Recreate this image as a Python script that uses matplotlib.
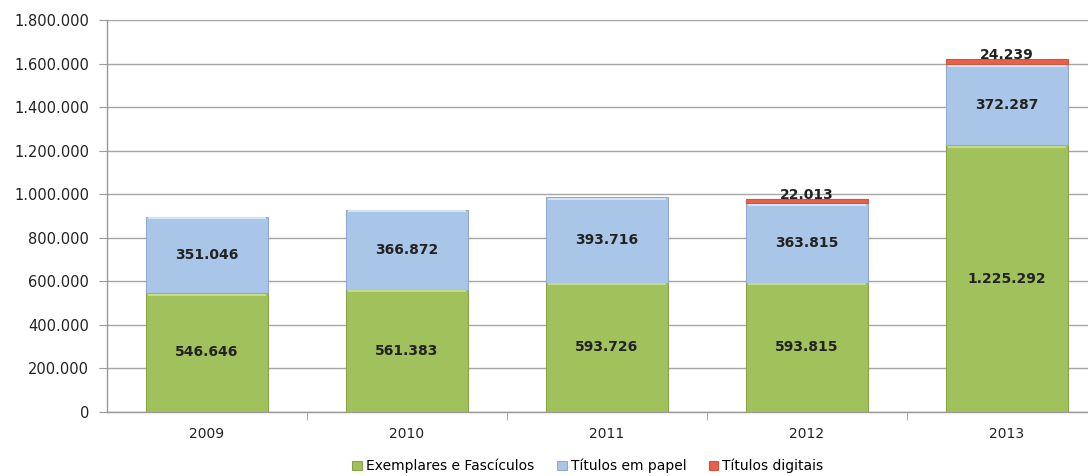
import matplotlib.pyplot as plt
import numpy as np
from matplotlib.ticker import FuncFormatter

anos = ['2009', '2010', '2011', '2012', '2013']
exemplares = [546646, 561383, 593726, 593815, 1225292]
titulos_papel = [351046, 366872, 393716, 363815, 372287]
titulos_digitais = [0, 0, 0, 22013, 24239]

series_nomes = ['Exemplares e Fascículos', 'Títulos em papel', 'Títulos digitais']
cores = ['#a0c15c', '#a9c6e8', '#e8614a']
claros = ['#c4dc8a', '#d2e3f6', None]
escuros = ['#86a548', '#8eabcd', '#d0553f']


def fmt(v):
    return '{:,.0f}'.format(v).replace(',', '.')


fig = plt.figure(figsize=(10.88, 4.76), dpi=100)
# plot area runs past the right edge, as in the original
ax = fig.add_axes([107 / 1088, (476 - 412) / 476, 1000 / 1088, 392 / 476])

x = np.arange(len(anos))
w = 0.61
base = np.zeros(len(anos))
for vals, cor, claro, escuro, nome in zip([exemplares, titulos_papel, titulos_digitais],
                                          cores, claros, escuros, series_nomes):
    vals = np.array(vals, dtype=float)
    mask = vals > 0
    ax.bar(x[mask], vals[mask], w, bottom=base[mask], color=cor, edgecolor=escuro,
           linewidth=0.8, label=nome, zorder=3)
    if claro is not None:
        # light bevel strip at the top of each segment
        faixa = np.full(mask.sum(), 9000.0)
        ax.bar(x[mask], faixa, w * 0.96, bottom=base[mask] + vals[mask] - faixa * 1.3,
               color=claro, linewidth=0, zorder=4)
    base += vals

# labels inside the green and blue segments, digital labels above
for i in range(len(anos)):
    ax.text(x[i], exemplares[i] / 2, fmt(exemplares[i]), ha='center', va='center',
            fontsize=10, fontweight='bold', color='#222222', zorder=5)
    ax.text(x[i], exemplares[i] + titulos_papel[i] / 2, fmt(titulos_papel[i]), ha='center', va='center',
            fontsize=10, fontweight='bold', color='#222222', zorder=5)
    if titulos_digitais[i] > 0:
        topo = exemplares[i] + titulos_papel[i] + titulos_digitais[i]
        ax.text(x[i], topo - 14000, fmt(titulos_digitais[i]), ha='center', va='bottom',
                fontsize=10, fontweight='bold', color='#222222', zorder=5)

ax.set_xlim(-0.5, len(anos) - 0.5)
ax.set_ylim(0, 1800000)
ax.set_yticks(np.arange(0, 1800001, 200000))
ax.yaxis.set_major_formatter(FuncFormatter(lambda v, p: fmt(v)))
ax.set_xticks(x)
ax.set_xticklabels(anos)
ax.set_xticks(np.arange(0.5, len(anos) - 0.5, 1), minor=True)
ax.tick_params(axis='x', which='major', length=0, pad=11, labelsize=10, labelcolor='#222222')
ax.tick_params(axis='x', which='minor', length=6, color='#999999')
ax.tick_params(axis='y', length=6, color='#999999', labelsize=10.5, labelcolor='#222222', pad=7)

ax.grid(axis='y', color='#a6a6a6', linewidth=1.0, zorder=0)
for s in ['top', 'right']:
    ax.spines[s].set_visible(False)
for s in ['left', 'bottom']:
    ax.spines[s].set_color('#999999')
    ax.spines[s].set_linewidth(1.0)

handles, labels = ax.get_legend_handles_labels()
fig.legend(handles, labels, loc='center', bbox_to_anchor=(588 / 1088, 1 - 466 / 476), ncol=3,
           frameon=False, fontsize=10, handlelength=0.7, handleheight=0.7, handletextpad=0.3,
           columnspacing=1.6)

fig.savefig('out.png', dpi=100)
